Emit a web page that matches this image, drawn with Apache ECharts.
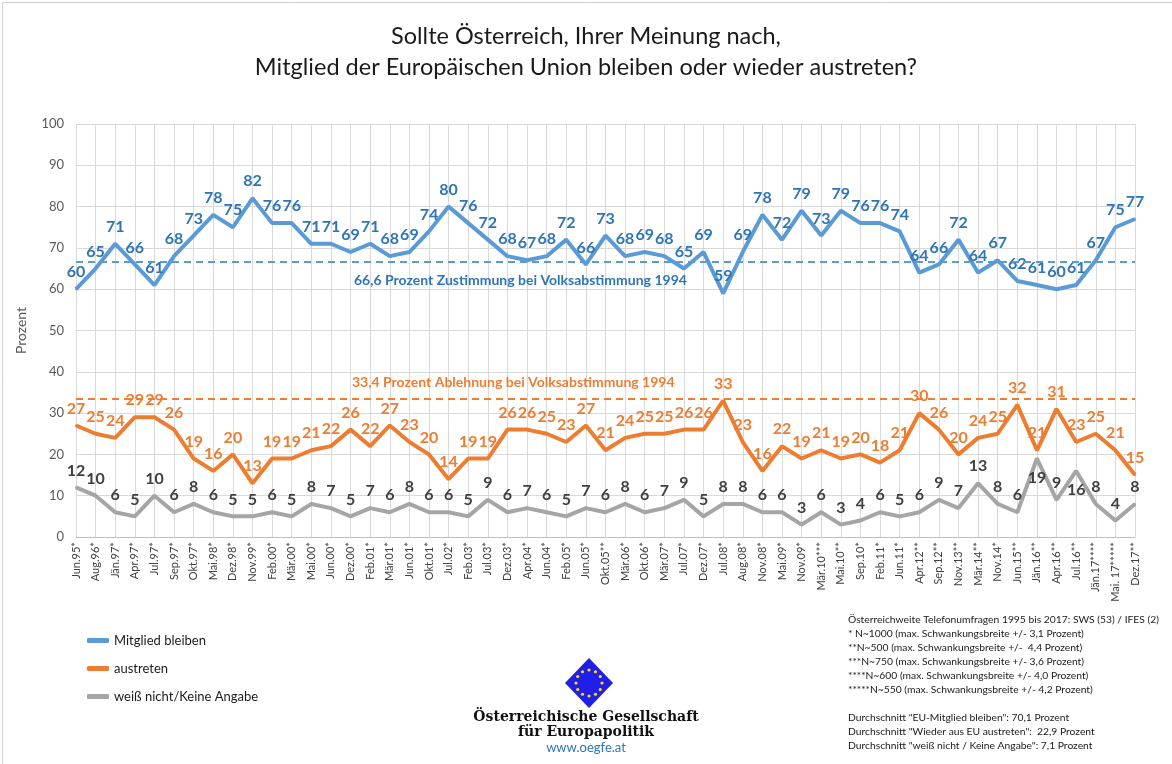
<!DOCTYPE html>
<html>
<head>
<meta charset="utf-8">
<script src="https://cdn.jsdelivr.net/npm/echarts@6/dist/echarts.min.js"></script>
<style>
html,body{margin:0;padding:0;background:#fff;}
#c{width:1172px;height:764px;}
</style>
</head>
<body>
<div id="c"></div>
<script>
const categories = ["Jun.95*","Aug.96*","Jän.97*","Apr.97*","Jul.97*","Sep.97*","Okt.97*","Mai.98*","Dez.98*","Nov.99*","Feb.00*","Mär.00*","Mai.00*","Jun.00*","Dez.00*","Feb.01*","Mär.01*","Jun.01*","Okt.01*","Jul.02*","Feb.03*","Jul.03*","Dez.03*","Apr.04*","Jun.04*","Feb.05*","Jun.05*","Okt.05**","Mär.06*","Okt.06*","Mär.07*","Jul.07*","Dez.07*","Jul.08*","Aug.08*","Nov.08*","Mai.09*","Nov.09*","Mär.10***","Mai.10**","Sep.10*","Feb.11*","Jun.11*","Apr.12**","Sep.12**","Nov.13**","Mär.14**","Nov.14*","Jun.15**","Jän.16**","Apr.16**","Jul.16**","Jän.17****","Mai. 17*****","Dez.17**"];
const bleiben = [60,65,71,66,61,68,73,78,75,82,76,76,71,71,69,71,68,69,74,80,76,72,68,67,68,72,66,73,68,69,68,65,69,59,69,78,72,79,73,79,76,76,74,64,66,72,64,67,62,61,60,61,67,75,77];
const austreten = [27,25,24,29,29,26,19,16,20,13,19,19,21,22,26,22,27,23,20,14,19,19,26,26,25,23,27,21,24,25,25,26,26,33,23,16,22,19,21,19,20,18,21,30,26,20,24,25,32,21,31,23,25,21,15];
const weissNicht = [12,10,6,5,10,6,8,6,5,5,6,5,8,7,5,7,6,8,6,6,5,9,6,7,6,5,7,6,8,6,7,9,5,8,8,6,6,3,6,3,4,6,5,6,9,7,13,8,6,19,9,16,8,4,8];
const yTicks = [0,10,20,30,40,50,60,70,80,90,100];
const refZustimmung = 66.6;
const refAblehnung = 33.4;
const seriesNames = ["Mitglied bleiben","austreten","weiß nicht/Keine Angabe"];
const grayLabelsBelow = ["Jän.16**","Jul.16**"];
const notes = [
 "Österreichweite Telefonumfragen 1995 bis 2017: SWS (53) / IFES (2)",
 "* N~1000 (max. Schwankungsbreite +/- 3,1 Prozent)",
 "**N~500 (max. Schwankungsbreite +/-  4,4 Prozent)",
 "***N~750 (max. Schwankungsbreite +/- 3,6 Prozent)",
 "****N~600 (max. Schwankungsbreite +/- 4,0 Prozent)",
 "*****N~550 (max. Schwankungsbreite +/- 4,2 Prozent)",
 "",
 "Durchschnitt \"EU-Mitglied bleiben\": 70,1 Prozent",
 "Durchschnitt \"Wieder aus EU austreten\":  22,9 Prozent",
 "Durchschnitt \"weiß nicht / Keine Angabe\": 7,1 Prozent"
];

const FONT = "Lato, 'Open Sans', sans-serif";
const SERIF = "'DejaVu Serif', 'Liberation Serif', serif";
const chart = echarts.init(document.getElementById('c'));

// EU logo stars
const logoCx = 589, logoCy = 683;
const stars = [];
for (let k = 0; k < 12; k++) {
  const a = k * Math.PI / 6;
  stars.push({
    type: 'circle',
    shape: {cx: logoCx + 13 * Math.cos(a), cy: logoCy + 13 * Math.sin(a), r: 1.6},
    style: {fill: '#FFE000'}
  });
}

function lineSeries(name, data, color, labelColor) {
  return {
    name: name, type: 'line', data: data,
    symbol: 'circle', symbolSize: 2, showSymbol: true,
    lineStyle: {color: color, width: 4},
    itemStyle: {color: color},
    label: {show: true, position: 'top', distance: 8, color: labelColor,
            fontFamily: FONT, fontWeight: 'bold', fontSize: 16},
    labelLayout: {hideOverlap: false},
    z: 3
  };
}

const sBlue = lineSeries(seriesNames[0], bleiben, '#5B9BD5', '#2E75B6');
sBlue.markLine = {
  silent: true, symbol: 'none', animation: false,
  lineStyle: {color: '#5B9BD5', type: [7, 5], width: 2},
  label: {show: true, position: 'insideStartBottom', distance: [278, 12],
          formatter: '66,6 Prozent Zustimmung bei Volksabstimmung 1994',
          color: '#2E75B6', fontFamily: FONT, fontWeight: 'bold', fontSize: 14},
  data: [{yAxis: refZustimmung}]
};
const sOrange = lineSeries(seriesNames[1], austreten, '#ED7D31', '#ED7D31');
sOrange.markLine = {
  silent: true, symbol: 'none', animation: false,
  lineStyle: {color: '#ED7D31', type: [7, 5], width: 2},
  label: {show: true, position: 'insideStartTop', distance: [276, 10],
          formatter: '33,4 Prozent Ablehnung bei Volksabstimmung 1994',
          color: '#ED7D31', fontFamily: FONT, fontWeight: 'bold', fontSize: 14},
  data: [{yAxis: refAblehnung}]
};
const grayData = weissNicht.map((v, i) =>
  grayLabelsBelow.indexOf(categories[i]) >= 0
    ? {value: v, label: {position: 'bottom', distance: 10}}
    : v);
const sGray = lineSeries(seriesNames[2], grayData, '#A5A5A5', '#404040');

chart.setOption({
  animation: false,
  backgroundColor: '#fff',
  textStyle: {fontFamily: FONT},
  title: {
    text: 'Sollte Österreich, Ihrer Meinung nach,\nMitglied der Europäischen Union bleiben oder wieder austreten?',
    left: 'center', top: 16,
    textStyle: {fontFamily: FONT, fontSize: 23.5, fontWeight: 'normal', color: '#1a1a1a', lineHeight: 31}
  },
  grid: {left: 76, right: 37, top: 124, bottom: 227, containLabel: false},
  legend: {
    orient: 'vertical', left: 82, top: 629, itemGap: 15,
    icon: 'roundRect', itemWidth: 22, itemHeight: 5,
    textStyle: {fontFamily: FONT, fontSize: 13, color: '#1a1a1a'},
    data: seriesNames
  },
  xAxis: {
    type: 'category', data: categories, boundaryGap: false,
    axisLine: {lineStyle: {color: '#BFBFBF'}},
    axisTick: {show: false},
    axisLabel: {interval: 0, rotate: 90, fontSize: 11, color: '#404040', margin: 5, fontFamily: FONT},
    splitLine: {show: true, interval: 0, lineStyle: {color: '#D9D9D9', width: 1}}
  },
  yAxis: {
    type: 'value', min: 0, max: 100, interval: 10,
    name: 'Prozent', nameLocation: 'middle', nameGap: 48, nameRotate: 90,
    nameTextStyle: {fontSize: 14, color: '#595959', fontFamily: FONT},
    axisLine: {show: false}, axisTick: {show: false},
    axisLabel: {fontSize: 13, color: '#595959', margin: 12, fontFamily: FONT,
                formatter: v => yTicks.indexOf(v) >= 0 ? String(v) : ''},
    splitLine: {lineStyle: {color: '#D9D9D9', width: 1}}
  },
  series: [sBlue, sOrange, sGray],
  graphic: [
    {type: 'rect', left: 0, top: 0, shape: {width: 1171, height: 763},
     style: {fill: 'none', stroke: '#D0D0D0', lineWidth: 1}, silent: true},
    {type: 'text', left: 848, top: 613,
     style: {text: notes.join('\n'), fontFamily: FONT, fontSize: 10.3, lineHeight: 14, fill: '#1a1a1a'}},
    {type: 'polygon', shape: {points: [[logoCx, logoCy - 25], [logoCx + 24, logoCy], [logoCx, logoCy + 25], [logoCx - 24, logoCy]]},
     style: {fill: '#1F1FE8'}},
    ...stars,
    {type: 'text', left: 'center', top: 710,
     style: {text: 'Österreichische Gesellschaft', fontFamily: SERIF,
             fontWeight: 'bold', fontSize: 14, fill: '#111'}},
    {type: 'text', left: 'center', top: 725,
     style: {text: 'für Europapolitik', fontFamily: SERIF,
             fontWeight: 'bold', fontSize: 14, fill: '#111'}},
    {type: 'text', left: 'center', top: 741,
     style: {text: 'www.oegfe.at', fontFamily: FONT, fontSize: 13, fill: '#2E75B6'}}
  ]
});
</script>
</body>
</html>
